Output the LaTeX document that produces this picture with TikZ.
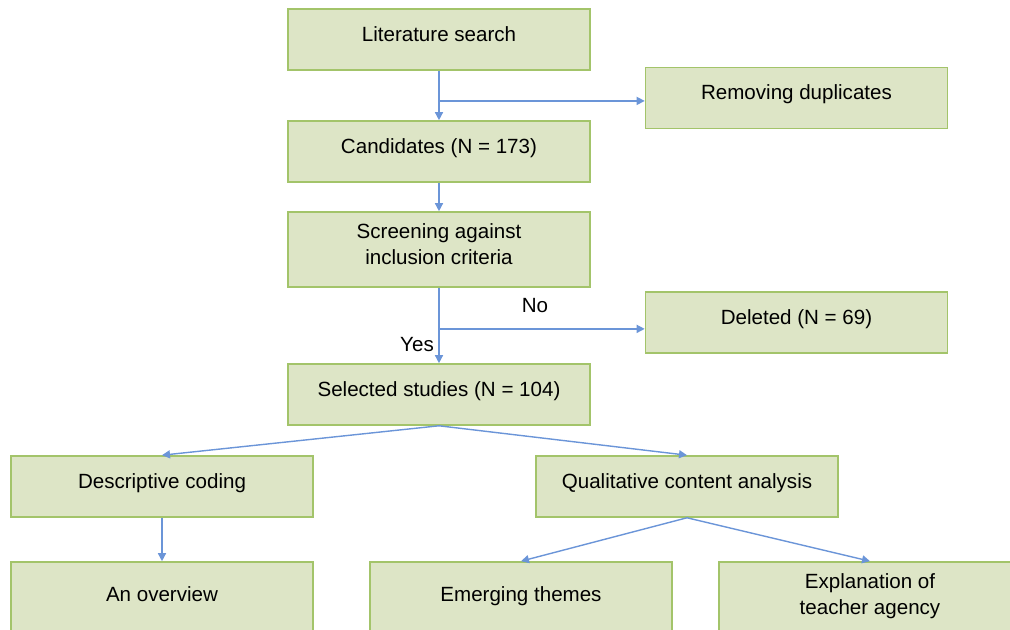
\documentclass[tikz,border=0pt]{standalone}
\usepackage{fontspec}
\setmainfont{Liberation Sans}
\usetikzlibrary{positioning, arrows.meta, calc}

\definecolor{boxfill}{HTML}{DDE5C6}
\definecolor{boxline}{HTML}{A3C46A}
\definecolor{arrowblue}{HTML}{6B95D8}

\begin{document}
\begin{tikzpicture}[node distance=2cm, on grid, font=\fontsize{11.7}{14.8}\selectfont]
                \tikzset{
                    stage/.style={draw=boxline, fill=boxfill, line width=0.9pt, minimum width=6.04cm, minimum height=1.22cm, align=center, inner sep=2pt, text depth=0.23cm},
                    tallstage/.style={stage, minimum height=1.5cm},
                    flow/.style={->, >={Triangle[length=1.6mm, width=1.6mm]}, every edge/.append style={draw=arrowblue, line width=0.8pt}}
                }

                % FRAME
                \useasboundingbox (-8.78,0.79) rectangle (11.42,-11.81);

                % MAIN COLUMN
                \node[stage] (lit) {Literature search};
                \node[stage] (cand) [below=2.24cm of lit] {Candidates (N = 173)};
                \node[tallstage] (screen) [below=1.96cm of cand] {Screening against\\inclusion criteria};
                \node[stage] (sel) [below=2.9cm of screen] {Selected studies (N = 104)};

                % SIDE BOXES
                \node[stage] (dup) [below right=1.17cm and 7.15cm of lit] {Removing duplicates};
                \node[stage] (del) [below right=1.46cm and 7.15cm of screen] {Deleted (N = 69)};

                % ANALYSIS
                \node[stage] (desc) [below left=1.84cm and 5.54cm of sel] {Descriptive coding};
                \node[stage] (qual) [below right=1.84cm and 4.96cm of sel] {Qualitative content analysis};
                \node[tallstage] (over) [below=2.26cm of desc] {An overview};
                \node[tallstage] (themes) [below left=2.26cm and 3.32cm of qual] {Emerging themes};
                \node[tallstage] (agency) [below right=2.26cm and 3.66cm of qual] {Explanation of\\teacher agency};

                % SPLIT POINTS
                \coordinate (split1) at ($(lit.south)!0.61!(cand.north)$);
                \coordinate (split2) at ($(screen.south)!0.545!(sel.north)$);

                % ARROWS
                \path[flow]
                    (lit) edge (cand)
                    (split1) edge (split1 -| dup.west)
                    (cand) edge (screen)
                    (screen) edge (sel)
                    (split2) edge (split2 -| del.west)
                    (sel.south) edge (desc.north)
                    (sel.south) edge (qual.north)
                    (desc) edge (over)
                    (qual.south) edge (themes.north)
                    (qual.south) edge (agency.north);

                % LABELS
                \node (no) at ($(split2)+(1.92,0.46)$) {No};
                \node (yes) at ($(split2)+(-0.44,-0.32)$) {Yes};

            \end{tikzpicture}
\end{document}
